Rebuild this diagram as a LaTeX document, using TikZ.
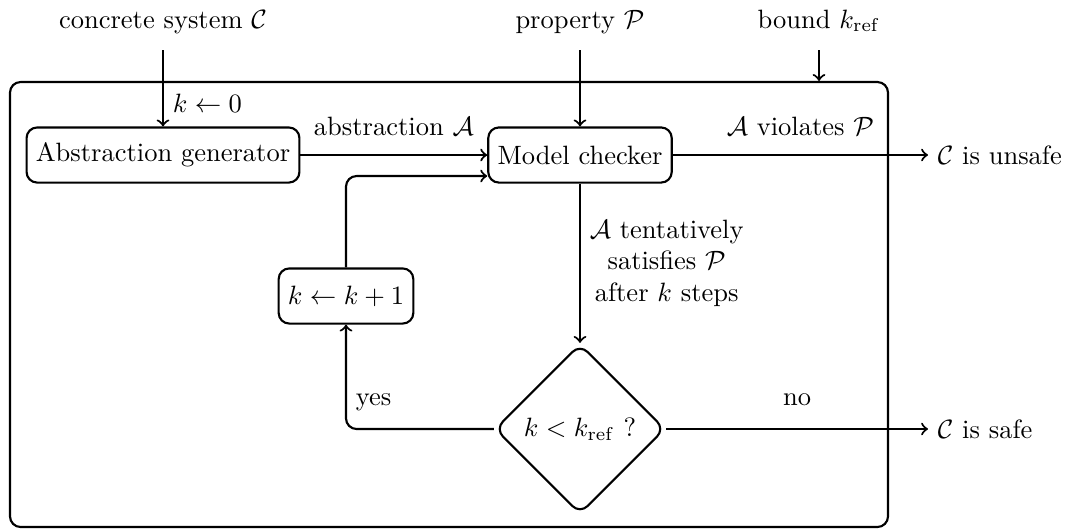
\documentclass[tikz,border=0pt]{standalone}
\usetikzlibrary{shapes.geometric,calc,fit}
\begin{document}
\begin{tikzpicture}[x=0.3774pt, y=-0.3774pt, thick, >=to,
  box/.style={draw, rounded corners, minimum height=20.8pt, inner xsep=3.5pt},
  test/.style={draw, diamond, aspect=1, rounded corners, inner sep=3.33pt},
  io/.style={inner sep=3.33pt, anchor=west},
  heading/.style={inner sep=0pt, anchor=base}]
\useasboundingbox (0,0) rectangle (1067,529);

% surrounding loop frame
\node[fit={(10,82) (888,527)}, inner sep=0pt, draw, rounded corners] (frame) {};

% processing steps
\node[box] (ag) at (163,155) {Abstraction generator};
\node[box] (mc) at (580,155) {Model checker};
\node[box] (inc) at (346,296) {$k \leftarrow k+1$};
\node[test] (dec) at (580,429) {$k < k_{\mathrm{ref}}$ ?};

% inputs
\node[heading] (sys) at (163,28) {concrete system $\mathcal{C}$};
\node[heading] (prop) at (580,28) {property $\mathcal{P}$};
\node[heading] (bnd) at (819,28) {bound $k_{\mathrm{ref}}$};
\coordinate (sysin) at (163,50);
\coordinate (propin) at (580,50);
\coordinate (bndin) at (819,50);

% outcomes
\node[io] (unsafe) at (928,155) {$\mathcal{C}$ is unsafe};
\node[io] (safe) at (928,429) {$\mathcal{C}$ is safe};

\coordinate (mcin) at ($(mc.west)+(0,21)$);

\draw[->] (sysin) -- node[right, pos=0.7] {$k \leftarrow 0$} (ag);
\draw[->] (propin) -- (mc);
\draw[->] (bndin) -- (bndin |- frame.north);
\draw[->] (ag) -- node[above=3.5pt] {abstraction $\mathcal{A}$} (mc);
\draw[->] (mc) -- node[above=3.5pt] {$\mathcal{A}$ violates $\mathcal{P}$} (unsafe);
\draw[->] (mc) -- node[right, align=center] {$\mathcal{A}$ tentatively\\ satisfies $\mathcal{P}$\\ after $k$ steps} (dec);
\draw[->, rounded corners] (dec) -| node[pos=0.5, above right, yshift=3pt] {yes} (inc);
\draw[->] (dec) -- node[above=5pt] {no} (safe);
\draw[->, rounded corners] (inc) |- (mcin);
\end{tikzpicture}
\end{document}
